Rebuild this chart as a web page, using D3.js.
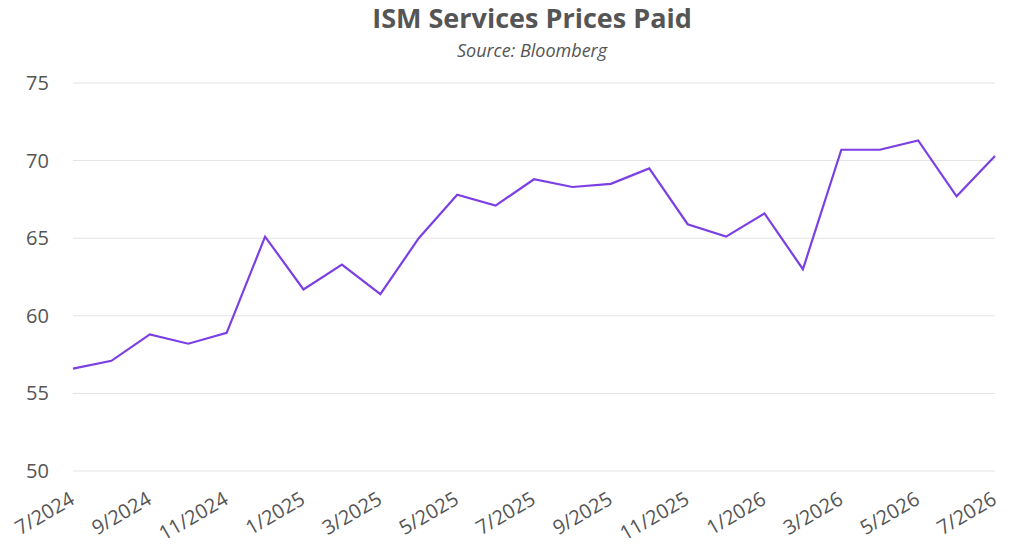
<!DOCTYPE html>
<html><head><meta charset="utf-8">
<script src="https://cdn.jsdelivr.net/npm/d3@7"></script>
<style>body{margin:0;background:#fff;font-family:"Open Sans",Lato,sans-serif;}</style>
</head><body>
<script>
var months = ["7/2024","8/2024","9/2024","10/2024","11/2024","12/2024","1/2025","2/2025","3/2025","4/2025","5/2025","6/2025","7/2025","8/2025","9/2025","10/2025","11/2025","12/2025","1/2026","2/2026","3/2026","4/2026","5/2026","6/2026","7/2026"];
var values = [56.6,57.1,58.8,58.2,58.9,65.1,61.7,63.3,61.4,65.0,67.8,67.1,68.8,68.3,68.5,69.5,65.9,65.1,66.6,63.0,70.7,70.7,71.3,67.7,70.3];
var yTicks = [50,55,60,65,70,75];

var width = 1024, height = 555;
var margin = {left:73, right:29, top:83, bottom:84};

var svg = d3.select("body").append("svg").attr("width",width).attr("height",height);

var x = d3.scalePoint().domain(months).range([margin.left, width-margin.right]);
var y = d3.scaleLinear().domain([50,75]).range([height-margin.bottom, margin.top]);

// grid
svg.append("g").selectAll("line").data(yTicks).join("line")
    .attr("x1",margin.left).attr("x2",width-margin.right)
    .attr("y1",d=>y(d)).attr("y2",d=>y(d))
    .attr("stroke","#e3e3e3").attr("stroke-width",1);

svg.append("g").selectAll("text").data(yTicks).join("text")
    .attr("x",26).attr("y",d=>y(d)).attr("dy","0.35em")
    .attr("font-size",20).attr("fill","#555").text(d=>d);

// x labels every other month
svg.append("g").selectAll("text").data(months.filter((d,i)=>i%2==0)).join("text")
    .attr("transform",d=>"translate("+(x(d)-4)+","+(height-margin.bottom+20)+") rotate(-30)")
    .attr("text-anchor","end").attr("dy","0.7em")
    .attr("font-size",20).attr("fill","#555").text(d=>d);

var line = d3.line().x((d,i)=>x(months[i])).y(d=>y(d));
svg.append("path").datum(values).attr("d",line)
    .attr("fill","none").attr("stroke","#7b3fe4").attr("stroke-width",2.2);

svg.append("text").attr("x",width/2+20).attr("y",28).attr("text-anchor","middle")
    .attr("font-size",27).attr("font-weight","bold").attr("fill","#555").text("ISM Services Prices Paid");
svg.append("text").attr("x",width/2+20).attr("y",57).attr("text-anchor","middle")
    .attr("font-size",18).attr("font-style","italic").attr("fill","#555").text("Source: Bloomberg");
</script>
</body></html>
